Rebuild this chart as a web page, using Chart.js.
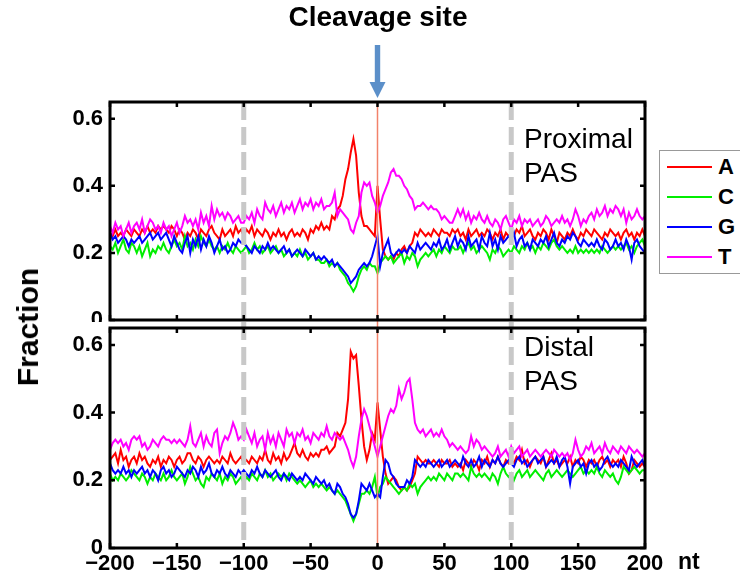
<!DOCTYPE html>
<html>
<head>
<meta charset="utf-8">
<script src="https://cdn.jsdelivr.net/npm/chart.js@4.4.1/dist/chart.umd.min.js"></script>
<style>
  html, body { margin:0; padding:0; background:#fff; width:740px; height:582px; overflow:hidden; }
  body { position:relative; font-family:"Liberation Sans", Arial, Helvetica, sans-serif; color:#000; }
  .abs { position:absolute; white-space:nowrap; }
  #topWrap { position:absolute; left:0; top:0; width:740px; height:322px; }
  #botWrap { position:absolute; left:0; top:322px; width:740px; height:260px; background:#fff; }
  .lgLine { position:absolute; width:45px; height:2px; }
  .lgTxt { position:absolute; font-weight:bold; font-size:22px; line-height:22px; }
</style>
</head>
<body>
<div id="topWrap"><canvas id="cTop"></canvas></div>
<div id="botWrap"><canvas id="cBot"></canvas></div>

<div class="abs" style="left:378px; top:3px; transform:translateX(-50%); font-weight:bold; font-size:28px; line-height:28px;">Cleavage site</div>
<div class="abs" style="left:28px; top:327px; transform:translate(-50%,-50%) rotate(-90deg); font-weight:bold; font-size:30px; line-height:30px;">Fraction</div>
<div class="abs" style="left:678px; top:550px; font-weight:bold; font-size:23px; line-height:23px;">nt</div>
<div class="abs" style="left:524px; top:122px; font-size:28px; line-height:34px;">Proximal<br>PAS</div>
<div class="abs" style="left:524px; top:330px; font-size:28px; line-height:34px;">Distal<br>PAS</div>

<div class="abs" style="left:659px; top:150px; width:130px; height:122px; border:1px solid #999; background:#fff;"></div>
<div id="legendItems"></div>

<script>
// ---------------- data ----------------
const NT = [
-200,-198,-196,-194,-192,-190,-188,-186,-184,-182,
-180,-178,-176,-174,-172,-170,-168,-166,-164,-162,
-160,-158,-156,-154,-152,-150,-148,-146,-144,-142,
-140,-138,-136,-134,-132,-130,-128,-126,-124,-122,
-120,-118,-116,-114,-112,-110,-108,-106,-104,-102,
-100,-98,-96,-94,-92,-90,-88,-86,-84,-82,
-80,-78,-76,-74,-72,-70,-68,-66,-64,-62,
-60,-58,-56,-54,-52,-50,-48,-46,-44,-42,
-40,-38,-36,-34,-32,-30,-28,-26,-24,-22,
-20,-18,-16,-14,-12,-10,-8,-6,-4,-2,
0,2,4,6,8,10,12,14,16,18,
20,22,24,26,28,30,32,34,36,38,
40,42,44,46,48,50,52,54,56,58,
60,62,64,66,68,70,72,74,76,78,
80,82,84,86,88,90,92,94,96,98,
100,102,104,106,108,110,112,114,116,118,
120,122,124,126,128,130,132,134,136,138,
140,142,144,146,148,150,152,154,156,158,
160,162,164,166,168,170,172,174,176,178,
180,182,184,186,188,190,192,194,196,198,
200];

const NUCLEOTIDES = ['A','C','G','T'];
const COLORS = ['#ff0000','#00ee00','#0000ff','#ff00ff'];

// Proximal PAS
const proxA = [
0.26,0.25,0.27,0.25,0.26,0.25,0.27,0.26,0.25,0.27,
0.26,0.25,0.27,0.26,0.28,0.26,0.27,0.26,0.28,0.27,
0.28,0.27,0.26,0.28,0.27,0.25,0.27,0.26,0.24,0.26,
0.25,0.27,0.26,0.24,0.27,0.26,0.25,0.27,0.28,0.26,
0.25,0.24,0.27,0.25,0.26,0.27,0.25,0.28,0.26,0.27,
0.25,0.27,0.26,0.28,0.25,0.27,0.26,0.25,0.27,0.26,
0.24,0.26,0.25,0.27,0.25,0.26,0.24,0.26,0.27,0.25,
0.26,0.25,0.27,0.26,0.24,0.27,0.26,0.28,0.27,0.29,
0.27,0.28,0.27,0.31,0.30,0.33,0.34,0.37,0.42,0.45,
0.50,0.54,0.49,0.38,0.31,0.28,0.28,0.27,0.26,0.25,
0.40,0.30,0.21,0.19,0.18,0.19,0.18,0.20,0.19,0.21,
0.22,0.20,0.22,0.23,0.26,0.25,0.27,0.26,0.25,0.26,
0.25,0.27,0.26,0.25,0.27,0.26,0.26,0.25,0.27,0.26,
0.27,0.25,0.26,0.24,0.27,0.25,0.26,0.27,0.25,0.26,
0.25,0.27,0.26,0.24,0.26,0.25,0.27,0.24,0.26,0.25,
0.26,0.25,0.27,0.26,0.28,0.25,0.26,0.27,0.25,0.24,
0.26,0.25,0.27,0.26,0.24,0.27,0.25,0.23,0.26,0.25,
0.24,0.26,0.25,0.27,0.25,0.24,0.26,0.25,0.27,0.26,
0.25,0.27,0.26,0.25,0.24,0.26,0.25,0.27,0.26,0.25,
0.26,0.24,0.26,0.27,0.25,0.26,0.24,0.26,0.25,0.27,
0.25];
const proxC = [
0.22,0.21,0.23,0.20,0.22,0.24,0.21,0.20,0.23,0.22,
0.20,0.22,0.19,0.21,0.23,0.19,0.21,0.20,0.22,0.21,
0.23,0.21,0.20,0.22,0.24,0.22,0.23,0.21,0.25,0.22,
0.23,0.21,0.24,0.22,0.25,0.23,0.22,0.24,0.22,0.21,
0.22,0.20,0.22,0.21,0.23,0.21,0.20,0.22,0.21,0.20,
0.21,0.22,0.20,0.21,0.23,0.21,0.22,0.20,0.21,0.22,
0.20,0.21,0.22,0.20,0.21,0.19,0.20,0.21,0.19,0.20,
0.19,0.21,0.19,0.20,0.18,0.19,0.20,0.18,0.18,0.17,
0.17,0.18,0.16,0.17,0.16,0.17,0.15,0.14,0.13,0.11,
0.10,0.085,0.10,0.13,0.15,0.16,0.15,0.17,0.16,0.16,
0.14,0.17,0.18,0.19,0.18,0.19,0.17,0.18,0.19,0.20,
0.17,0.19,0.18,0.20,0.19,0.16,0.18,0.19,0.20,0.19,
0.20,0.21,0.19,0.21,0.20,0.22,0.21,0.20,0.22,0.21,
0.21,0.22,0.20,0.22,0.23,0.21,0.22,0.20,0.21,0.22,
0.21,0.20,0.18,0.21,0.20,0.22,0.21,0.19,0.20,0.21,
0.20,0.22,0.21,0.20,0.22,0.21,0.23,0.21,0.22,0.20,
0.22,0.21,0.23,0.22,0.21,0.23,0.24,0.22,0.21,0.22,
0.21,0.20,0.21,0.20,0.22,0.20,0.21,0.20,0.21,0.20,
0.21,0.20,0.21,0.20,0.22,0.21,0.20,0.21,0.22,0.21,
0.22,0.21,0.22,0.23,0.21,0.22,0.20,0.22,0.23,0.24,
0.22];
const proxG = [
0.26,0.24,0.25,0.23,0.24,0.25,0.24,0.22,0.24,0.23,
0.24,0.25,0.23,0.24,0.25,0.26,0.24,0.25,0.26,0.24,
0.25,0.26,0.24,0.22,0.25,0.23,0.21,0.20,0.23,0.25,
0.20,0.24,0.22,0.25,0.21,0.24,0.22,0.25,0.23,0.20,
0.22,0.24,0.21,0.22,0.20,0.21,0.23,0.22,0.24,0.23,
0.23,0.22,0.21,0.20,0.22,0.21,0.20,0.22,0.21,0.23,
0.21,0.22,0.21,0.20,0.21,0.22,0.20,0.21,0.19,0.20,
0.21,0.20,0.19,0.21,0.20,0.19,0.20,0.18,0.19,0.18,
0.19,0.18,0.17,0.18,0.16,0.17,0.16,0.15,0.14,0.13,
0.11,0.12,0.13,0.15,0.16,0.17,0.16,0.17,0.19,0.22,
0.25,0.16,0.20,0.22,0.24,0.20,0.19,0.20,0.21,0.20,
0.21,0.20,0.22,0.21,0.20,0.23,0.21,0.22,0.23,0.22,
0.21,0.23,0.22,0.24,0.21,0.22,0.24,0.21,0.23,0.25,
0.22,0.24,0.23,0.21,0.25,0.22,0.23,0.24,0.21,0.25,
0.23,0.22,0.26,0.22,0.24,0.21,0.25,0.23,0.24,0.25,
0.24,0.26,0.22,0.24,0.25,0.22,0.23,0.21,0.24,0.23,
0.22,0.24,0.23,0.25,0.22,0.24,0.26,0.23,0.22,0.24,
0.23,0.25,0.24,0.26,0.25,0.23,0.22,0.24,0.23,0.22,
0.23,0.22,0.24,0.22,0.21,0.24,0.23,0.21,0.22,0.24,
0.22,0.23,0.21,0.24,0.22,0.18,0.23,0.24,0.22,0.21,
0.20];
const proxT = [
0.28,0.26,0.29,0.27,0.28,0.25,0.27,0.29,0.26,0.28,
0.29,0.27,0.30,0.26,0.28,0.30,0.29,0.27,0.28,0.26,
0.29,0.27,0.28,0.25,0.27,0.29,0.26,0.28,0.31,0.29,
0.30,0.28,0.30,0.27,0.32,0.29,0.31,0.28,0.34,0.30,
0.33,0.31,0.32,0.30,0.32,0.31,0.29,0.30,0.31,0.29,
0.29,0.31,0.30,0.32,0.29,0.33,0.31,0.30,0.35,0.33,
0.32,0.34,0.31,0.33,0.35,0.32,0.34,0.33,0.35,0.32,
0.34,0.36,0.33,0.35,0.34,0.36,0.33,0.35,0.34,0.36,
0.33,0.34,0.34,0.35,0.38,0.31,0.33,0.32,0.31,0.30,
0.27,0.26,0.29,0.31,0.38,0.41,0.40,0.41,0.37,0.35,
0.32,0.34,0.37,0.39,0.41,0.44,0.45,0.43,0.43,0.42,
0.40,0.39,0.37,0.36,0.33,0.34,0.34,0.35,0.34,0.33,
0.34,0.33,0.33,0.32,0.30,0.31,0.30,0.29,0.29,0.31,
0.33,0.31,0.33,0.30,0.32,0.29,0.31,0.30,0.32,0.30,
0.29,0.31,0.29,0.28,0.30,0.29,0.27,0.30,0.31,0.29,
0.27,0.30,0.29,0.31,0.28,0.30,0.29,0.30,0.28,0.29,
0.30,0.28,0.29,0.31,0.30,0.28,0.29,0.30,0.29,0.31,
0.29,0.30,0.28,0.30,0.33,0.31,0.28,0.30,0.29,0.31,
0.32,0.30,0.33,0.31,0.32,0.34,0.31,0.33,0.32,0.34,
0.33,0.31,0.33,0.29,0.32,0.30,0.31,0.33,0.31,0.30,
0.31];

// Distal PAS
const distA = [
0.26,0.27,0.28,0.25,0.29,0.26,0.27,0.24,0.26,0.27,
0.25,0.28,0.26,0.27,0.25,0.24,0.26,0.25,0.27,0.24,
0.26,0.25,0.27,0.26,0.24,0.26,0.27,0.25,0.26,0.28,
0.28,0.26,0.25,0.27,0.26,0.24,0.26,0.27,0.26,0.25,
0.26,0.25,0.27,0.26,0.25,0.28,0.26,0.25,0.26,0.27,
0.25,0.26,0.25,0.27,0.26,0.25,0.27,0.26,0.29,0.26,
0.25,0.28,0.26,0.27,0.25,0.28,0.26,0.27,0.29,0.31,
0.28,0.27,0.29,0.27,0.26,0.28,0.27,0.28,0.27,0.29,
0.29,0.30,0.28,0.29,0.30,0.34,0.33,0.35,0.37,0.44,
0.58,0.56,0.57,0.48,0.38,0.30,0.26,0.29,0.34,0.32,
0.43,0.35,0.27,0.22,0.19,0.20,0.21,0.20,0.18,0.17,
0.18,0.17,0.18,0.20,0.22,0.27,0.26,0.25,0.26,0.25,
0.25,0.26,0.25,0.24,0.26,0.25,0.25,0.26,0.24,0.25,
0.24,0.25,0.23,0.26,0.25,0.24,0.26,0.25,0.23,0.26,
0.25,0.27,0.24,0.26,0.25,0.27,0.25,0.24,0.26,0.25,
0.26,0.25,0.27,0.26,0.29,0.25,0.26,0.24,0.26,0.27,
0.26,0.25,0.27,0.24,0.26,0.28,0.25,0.26,0.24,0.25,
0.26,0.25,0.27,0.24,0.26,0.25,0.27,0.26,0.24,0.26,
0.25,0.26,0.24,0.26,0.27,0.25,0.26,0.24,0.26,0.25,
0.26,0.24,0.27,0.25,0.22,0.23,0.26,0.25,0.24,0.25,
0.24];
const distC = [
0.22,0.20,0.21,0.20,0.22,0.21,0.20,0.21,0.23,0.22,
0.21,0.20,0.22,0.21,0.19,0.21,0.20,0.22,0.21,0.20,
0.22,0.20,0.21,0.23,0.21,0.20,0.21,0.22,0.19,0.21,
0.24,0.22,0.20,0.21,0.19,0.18,0.21,0.20,0.22,0.21,
0.20,0.22,0.19,0.21,0.20,0.22,0.21,0.19,0.20,0.21,
0.19,0.21,0.20,0.22,0.21,0.20,0.22,0.21,0.23,0.21,
0.22,0.20,0.21,0.22,0.21,0.22,0.20,0.22,0.21,0.20,
0.19,0.20,0.19,0.18,0.19,0.20,0.18,0.19,0.18,0.19,
0.18,0.17,0.18,0.17,0.16,0.17,0.16,0.15,0.14,0.12,
0.10,0.08,0.10,0.13,0.16,0.16,0.17,0.16,0.18,0.21,
0.15,0.18,0.19,0.21,0.20,0.19,0.18,0.17,0.16,0.17,
0.18,0.17,0.19,0.18,0.19,0.16,0.18,0.19,0.20,0.21,
0.20,0.21,0.20,0.22,0.21,0.20,0.22,0.21,0.20,0.22,
0.22,0.21,0.22,0.21,0.20,0.24,0.22,0.21,0.22,0.21,
0.22,0.21,0.20,0.22,0.21,0.19,0.22,0.24,0.22,0.21,
0.22,0.20,0.22,0.23,0.21,0.22,0.23,0.21,0.22,0.23,
0.22,0.21,0.20,0.22,0.23,0.21,0.22,0.23,0.22,0.21,
0.22,0.23,0.22,0.21,0.22,0.23,0.24,0.22,0.23,0.22,
0.23,0.22,0.24,0.22,0.21,0.23,0.22,0.21,0.22,0.20,
0.19,0.21,0.24,0.23,0.22,0.23,0.24,0.23,0.22,0.23,
0.23];
const distG = [
0.25,0.23,0.22,0.23,0.22,0.24,0.22,0.23,0.21,0.23,
0.22,0.23,0.24,0.22,0.23,0.21,0.23,0.22,0.20,0.23,
0.24,0.22,0.23,0.21,0.22,0.24,0.23,0.22,0.21,0.23,
0.22,0.24,0.23,0.21,0.24,0.22,0.23,0.25,0.22,0.21,
0.23,0.22,0.24,0.22,0.21,0.23,0.22,0.21,0.23,0.22,
0.23,0.22,0.21,0.23,0.22,0.24,0.22,0.21,0.23,0.22,
0.21,0.22,0.23,0.21,0.20,0.22,0.21,0.20,0.22,0.21,
0.20,0.21,0.20,0.22,0.21,0.20,0.19,0.21,0.20,0.19,
0.20,0.18,0.19,0.17,0.16,0.19,0.18,0.16,0.15,0.13,
0.10,0.09,0.10,0.14,0.19,0.18,0.17,0.19,0.17,0.15,
0.16,0.15,0.21,0.26,0.25,0.22,0.21,0.19,0.18,0.18,
0.18,0.20,0.19,0.21,0.26,0.25,0.24,0.25,0.24,0.26,
0.25,0.24,0.25,0.26,0.24,0.25,0.26,0.24,0.25,0.26,
0.25,0.24,0.27,0.25,0.24,0.26,0.24,0.25,0.27,0.24,
0.26,0.25,0.24,0.26,0.25,0.27,0.25,0.24,0.25,0.26,
0.25,0.24,0.26,0.27,0.25,0.26,0.24,0.25,0.26,0.27,
0.25,0.26,0.27,0.24,0.25,0.26,0.25,0.27,0.24,0.26,
0.27,0.24,0.19,0.24,0.25,0.26,0.24,0.25,0.22,0.25,
0.26,0.24,0.25,0.23,0.24,0.26,0.27,0.25,0.24,0.25,
0.24,0.26,0.25,0.24,0.23,0.27,0.25,0.24,0.25,0.26,
0.24];
const distT = [
0.29,0.31,0.32,0.31,0.32,0.30,0.31,0.29,0.32,0.33,
0.32,0.33,0.30,0.31,0.29,0.30,0.32,0.31,0.30,0.32,
0.33,0.32,0.32,0.31,0.32,0.31,0.32,0.31,0.30,0.32,
0.36,0.31,0.30,0.32,0.34,0.30,0.33,0.31,0.30,0.34,
0.35,0.28,0.31,0.33,0.32,0.34,0.37,0.35,0.32,0.33,
0.32,0.35,0.33,0.31,0.34,0.30,0.32,0.33,0.29,0.34,
0.31,0.33,0.30,0.34,0.32,0.30,0.35,0.33,0.34,0.31,
0.34,0.33,0.35,0.32,0.33,0.31,0.34,0.33,0.32,0.34,
0.33,0.36,0.33,0.32,0.34,0.33,0.32,0.33,0.31,0.29,
0.26,0.24,0.27,0.33,0.38,0.41,0.39,0.36,0.33,0.30,
0.27,0.30,0.33,0.36,0.39,0.41,0.40,0.42,0.47,0.44,
0.46,0.49,0.50,0.44,0.37,0.35,0.34,0.35,0.33,0.34,
0.35,0.33,0.34,0.33,0.35,0.33,0.32,0.30,0.31,0.30,
0.29,0.30,0.29,0.28,0.29,0.33,0.30,0.32,0.31,0.29,
0.30,0.29,0.28,0.27,0.28,0.30,0.27,0.28,0.29,0.27,
0.30,0.28,0.29,0.30,0.27,0.28,0.29,0.27,0.28,0.29,
0.28,0.27,0.28,0.29,0.28,0.27,0.29,0.28,0.27,0.28,
0.27,0.28,0.26,0.28,0.32,0.29,0.27,0.28,0.30,0.29,
0.31,0.28,0.29,0.30,0.28,0.31,0.29,0.28,0.30,0.29,
0.28,0.30,0.29,0.28,0.30,0.29,0.28,0.29,0.28,0.27,
0.28];

const X_TICKS = [-200,-150,-100,-50,0,50,100,150,200];
const Y_TICKS = [0,0.2,0.4,0.6];
const GUIDES = [-100,100];
const CLEAVAGE = 0;

// ---------------- chart ----------------
Chart.defaults.font.family = '"Liberation Sans", Arial, Helvetica, sans-serif';
Chart.defaults.color = '#000';

function toPts(vals){ return vals.map((v,i)=>({x:NT[i], y:v})); }

function decoPlugin(isTop){
  return {
    id:'deco',
    afterDatasetsDraw(chart){
      const {ctx, chartArea:a, scales:{x,y}} = chart;
      ctx.save();
      // dashed guides
      ctx.strokeStyle = '#c8c8c8';
      ctx.lineWidth = 5;
      ctx.setLineDash([18,7]);
      GUIDES.forEach(v=>{
        const px = x.getPixelForValue(v);
        ctx.beginPath();
        ctx.moveTo(px, isTop ? a.top : 0);
        ctx.lineTo(px, isTop ? chart.height : a.bottom);
        ctx.stroke();
      });
      ctx.setLineDash([]);
      // cleavage line
      const cx = x.getPixelForValue(CLEAVAGE);
      ctx.strokeStyle = '#f2826a';
      ctx.lineWidth = 1.5;
      ctx.beginPath();
      ctx.moveTo(cx, isTop ? a.top : 0);
      ctx.lineTo(cx, isTop ? chart.height : a.bottom);
      ctx.stroke();
      // frame
      ctx.strokeStyle = '#000';
      ctx.lineWidth = 3;
      ctx.strokeRect(a.left, a.top, a.right-a.left, a.bottom-a.top);
      // inward ticks
      ctx.lineWidth = 2.5;
      X_TICKS.forEach(v=>{
        const px = x.getPixelForValue(v);
        ctx.beginPath();
        ctx.moveTo(px, a.top); ctx.lineTo(px, a.top+5);
        ctx.moveTo(px, a.bottom); ctx.lineTo(px, a.bottom-5);
        ctx.stroke();
      });
      Y_TICKS.forEach(v=>{
        const py = y.getPixelForValue(v);
        ctx.beginPath();
        ctx.moveTo(a.left, py); ctx.lineTo(a.left+5, py);
        ctx.moveTo(a.right, py); ctx.lineTo(a.right-5, py);
        ctx.stroke();
      });
      // arrow
      if (isTop){
        ctx.fillStyle = '#5b8fc9';
        ctx.fillRect(cx-2.7, 45, 5.4, 38);
        ctx.beginPath();
        ctx.moveTo(cx-8, 82); ctx.lineTo(cx+8, 82); ctx.lineTo(cx, 98);
        ctx.closePath();
        ctx.fill();
      }
      ctx.restore();
    }
  };
}

function makeChart(id, series, isTop){
  const datasets = series.map((vals,i)=>({
    label: NUCLEOTIDES[i],
    data: toPts(vals),
    borderColor: COLORS[i],
    borderWidth: 2,
    pointRadius: 0,
    tension: 0,
    fill: false,
    order: 4-i
  }));
  return new Chart(document.getElementById(id), {
    type:'line',
    data:{ datasets },
    options:{
      responsive:true,
      maintainAspectRatio:false,
      animation:false,
      events:[],
      layout:{ padding: isTop ? {left:0,right:95,top:102,bottom:2} : {left:0,right:95,top:6,bottom:0} },
      plugins:{ legend:{display:false}, tooltip:{enabled:false} },
      scales:{
        x:{
          type:'linear', min:-200, max:200,
          grid:{display:false, drawTicks:false},
          border:{display:false},
          ticks:{
            display: !isTop,
            stepSize:50,
            padding:3,
            font:{size:22, weight:'bold'},
            color:'#000',
            callback:(v)=> v<0 ? '\u2212'+(-v) : String(v)
          },
          afterFit:(s)=>{ s.height = isTop ? 0 : 34; s.paddingLeft = 0; s.paddingRight = 0; }
        },
        y:{
          min:0, max:0.65,
          grid:{display:false, drawTicks:false},
          border:{display:false},
          ticks:{
            stepSize:0.2,
            includeBounds:false,
            padding:7,
            font:{size:22, weight:'bold'},
            color:'#000',
            callback:(v)=> Math.abs(v)<1e-9 ? '0' : Number(v).toFixed(1)
          },
          afterFit:(s)=>{ s.width = 110; s.paddingTop = 0; s.paddingBottom = 0; }
        }
      }
    },
    plugins:[decoPlugin(isTop)]
  });
}

makeChart('cTop', [proxA, proxC, proxG, proxT], true);
makeChart('cBot', [distA, distC, distG, distT], false);

// legend entries (HTML)
const LEGEND_Y = [167,197,227,257];
const lg = document.getElementById('legendItems');
NUCLEOTIDES.forEach((n,i)=>{
  const ln = document.createElement('div');
  ln.className = 'lgLine';
  ln.style.left = '667px';
  ln.style.top = (LEGEND_Y[i]-1)+'px';
  ln.style.background = COLORS[i];
  lg.appendChild(ln);
  const tx = document.createElement('div');
  tx.className = 'lgTxt';
  tx.style.left = '718px';
  tx.style.top = (LEGEND_Y[i]-11)+'px';
  tx.textContent = n;
  lg.appendChild(tx);
});
</script>
</body>
</html>
